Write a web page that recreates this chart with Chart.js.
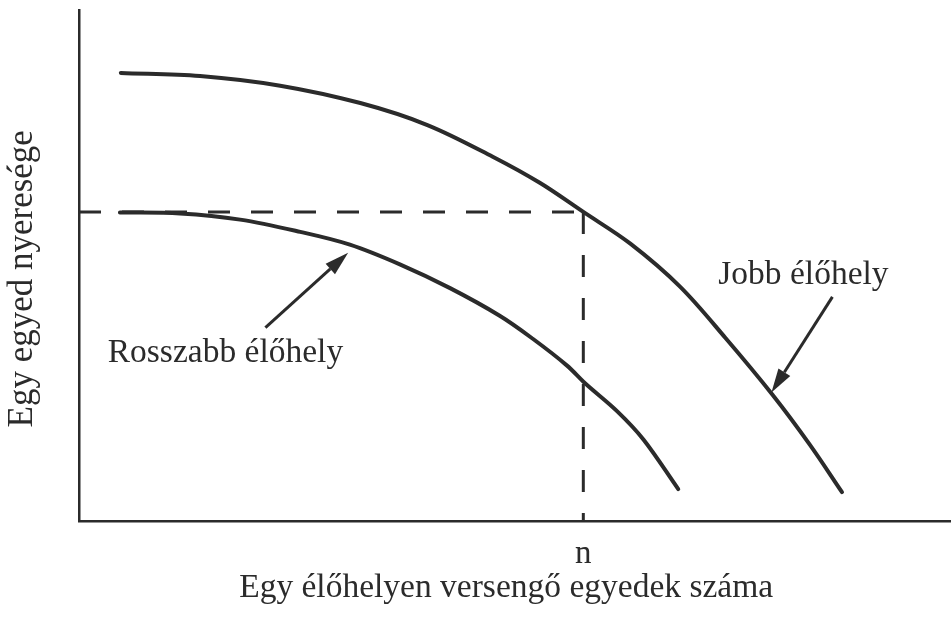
<!DOCTYPE html>
<html>
<head>
<meta charset="utf-8">
<script src="https://cdn.jsdelivr.net/npm/chart.js@4/dist/chart.umd.min.js"></script>
<style>
  html, body { margin: 0; padding: 0; background: #fff; }
  #wrap { width: 952px; height: 618px; }
</style>
</head>
<body>
<div id="wrap"><canvas id="chart" width="952" height="618"></canvas></div>
<script>
// curve values (abstract units, 0-100 on both axes)
const betterX = [4.8, 13.9, 23.1, 32.3, 40.0, 47.5, 52.9, 57.9, 63.3, 69.0, 74.2, 79.6, 83.9, 87.6];
const betterY = [87.7, 87.1, 85.2, 81.8, 77.5, 71.3, 66.2, 60.5, 54.3, 45.9, 35.9, 24.8, 15.0, 5.7];
const worseX = [4.7, 11.6, 18.5, 25.4, 31.1, 36.9, 42.6, 48.3, 52.1, 56.0, 58.1, 61.8, 64.8, 68.8];
const worseY = [60.4, 60.2, 59.0, 56.6, 54.1, 50.2, 45.6, 40.2, 35.7, 30.5, 27.0, 21.5, 16.0, 6.3];

// the point n where the better habitat gives the same payoff as the worse one when empty
const nValue = 57.9;
const nPayoff = 60.5;
const xTickLabels = ['n'];

const yTitle = 'Egy egyed nyeresége   ';
const xTitle = 'Egy élőhelyen versengő egyedek száma  ';

// labels with arrows: [text, label x, label y, arrow from x, from y, to x, to y]
const betterLabel = ['Jobb élőhely', 73.4, 46.5, 86.5, 43.9, 79.5, 25.2];
const worseLabel = ['Rosszabb élőhely', 3.3, 31.2, 21.4, 37.9, 30.9, 52.5];

const ink = '#2b2b2b';
const serif = "'Liberation Serif', 'Times New Roman', serif";

function pts(xs, ys) {
    return xs.map(function(x, i) { return {x: x, y: ys[i]}; });
}

// text labels and arrows, placed through the chart scales
const annotate = {
    id: 'annotate',
    afterDatasetsDraw: function(chart) {
        var ctx = chart.ctx;
        var sx = chart.scales.x, sy = chart.scales.y;
        [betterLabel, worseLabel].forEach(function(l) {
            ctx.save();
            ctx.fillStyle = ink;
            ctx.font = '33.5px ' + serif;
            ctx.textBaseline = 'alphabetic';
            ctx.textAlign = 'left';
            ctx.fillText(l[0], sx.getPixelForValue(l[1]), sy.getPixelForValue(l[2]));

            var x0 = sx.getPixelForValue(l[3]), y0 = sy.getPixelForValue(l[4]);
            var x1 = sx.getPixelForValue(l[5]), y1 = sy.getPixelForValue(l[6]);
            var a = Math.atan2(y1 - y0, x1 - x0);
            var hl = 24, hw = 7;
            var bx = x1 - hl * Math.cos(a), by = y1 - hl * Math.sin(a);
            ctx.strokeStyle = ink;
            ctx.lineWidth = 3;
            ctx.beginPath();
            ctx.moveTo(x0, y0);
            ctx.lineTo(bx, by);
            ctx.stroke();
            ctx.beginPath();
            ctx.moveTo(x1, y1);
            ctx.lineTo(bx + hw * Math.sin(a), by - hw * Math.cos(a));
            ctx.lineTo(bx - hw * Math.sin(a), by + hw * Math.cos(a));
            ctx.closePath();
            ctx.fill();
            ctx.restore();
        });
    }
};

new Chart(document.getElementById('chart').getContext('2d'), {
    type: 'scatter',
    data: {
        datasets: [{
            data: pts(betterX, betterY),
            borderColor: ink,
            borderWidth: 4,
            showLine: true,
            tension: 0.35,
            borderCapStyle: 'round',
            pointRadius: 0
        }, {
            data: pts(worseX, worseY),
            borderColor: ink,
            borderWidth: 4,
            showLine: true,
            tension: 0.35,
            borderCapStyle: 'round',
            pointRadius: 0
        }, {
            data: [{x: 0, y: nPayoff}, {x: nValue, y: nPayoff}],
            borderColor: ink,
            borderWidth: 3,
            borderDash: [22, 21],
            showLine: true,
            pointRadius: 0
        }, {
            data: [{x: nValue, y: nPayoff}, {x: nValue, y: 0}],
            borderColor: ink,
            borderWidth: 3,
            borderDash: [22, 21],
            showLine: true,
            pointRadius: 0
        }]
    },
    options: {
        responsive: false,
        animation: false,
        layout: { padding: { top: 10, right: 2, left: 0, bottom: 0 } },
        plugins: {
            legend: { display: false },
            tooltip: { enabled: false }
        },
        scales: {
            x: {
                type: 'linear',
                min: 0,
                max: 100,
                grid: { display: false, drawTicks: false },
                border: { display: true, color: ink, width: 2.5 },
                afterBuildTicks: function(scale) {
                    scale.ticks = [{value: nValue}];
                },
                ticks: {
                    padding: 17,
                    color: ink,
                    font: { family: serif, size: 33, lineHeight: 1 },
                    callback: function() { return xTickLabels[0]; }
                },
                title: {
                    display: true,
                    text: xTitle,
                    color: ink,
                    font: { family: serif, size: 33.5, lineHeight: 0.2 },
                    padding: { top: -3, bottom: 26 }
                }
            },
            y: {
                type: 'linear',
                min: 0,
                max: 100,
                grid: { display: false, drawTicks: false },
                border: { display: true, color: ink, width: 2.5 },
                ticks: { display: false },
                title: {
                    display: true,
                    text: yTitle,
                    color: ink,
                    font: { family: serif, size: 35, lineHeight: 1 },
                    padding: { top: 5, bottom: 39 }
                }
            }
        }
    },
    plugins: [annotate]
});
</script>
</body>
</html>
